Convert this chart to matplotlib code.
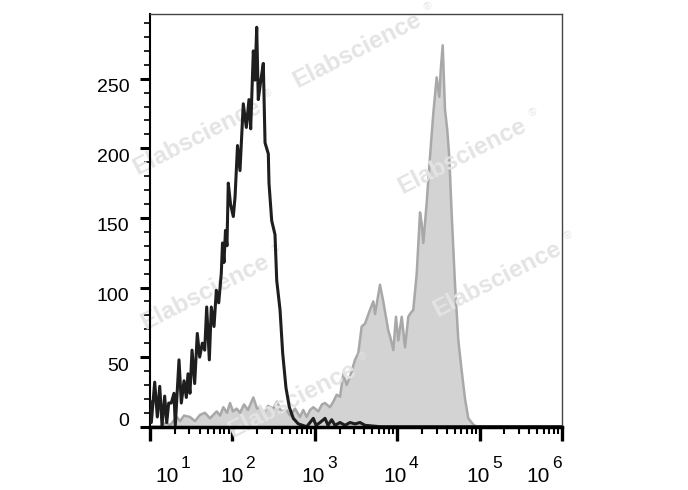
import matplotlib
matplotlib.use('Agg')
import matplotlib.pyplot as plt
import matplotlib.transforms as mtransforms
import numpy as np
from matplotlib.ticker import LogLocator, MultipleLocator, NullFormatter

plt.rcParams['font.family'] = ['Liberation Sans', 'DejaVu Sans']

# isotype control (black outline): log10 fluorescence and event count
ctrl_log = [1.000, 1.016, 1.057, 1.089, 1.118, 1.146, 1.178, 1.203, 1.227, 1.258,
            1.291, 1.307, 1.331, 1.352, 1.380, 1.413, 1.441, 1.461, 1.485, 1.510,
            1.542, 1.574, 1.603, 1.635, 1.664, 1.688, 1.720, 1.744, 1.777, 1.805,
            1.834, 1.865, 1.880, 1.898, 1.916, 1.934, 1.950, 1.977, 2.011, 2.032,
            2.062, 2.092, 2.132, 2.169, 2.201, 2.222, 2.254, 2.274, 2.295, 2.314,
            2.343, 2.375, 2.396, 2.436, 2.444, 2.477, 2.517, 2.538, 2.578, 2.610,
            2.650, 2.691, 2.739, 2.800, 2.902, 2.982, 3.015, 3.063, 3.124, 3.160,
            3.205, 3.245, 3.306, 3.367, 3.427, 3.488, 3.549, 3.609, 3.791, 6.000]
ctrl_count = [18, 3, 32, 7, 29, 1, 22, 3, 17, 17,
              24, 1, 26, 48, 17, 33, 21, 38, 24, 55,
              31, 67, 50, 60, 55, 86, 48, 86, 72, 98,
              89, 110, 132, 118, 141, 130, 175, 160, 151, 165,
              202, 184, 232, 215, 235, 214, 270, 249, 287, 235,
              248, 261, 204, 196, 175, 148, 138, 105, 84, 53,
              28, 14, 6, 2, 0, 6, 1, 3, 6, 1,
              5, 1, 3, 1, 3, 2, 3, 1, 0, 0]

# stained sample (grey filled)
stain_log = [1.000, 1.121, 1.194, 1.243, 1.324, 1.364, 1.413, 1.485, 1.546, 1.607,
             1.667, 1.728, 1.809, 1.850, 1.890, 1.934, 1.971, 2.007, 2.052, 2.092,
             2.141, 2.189, 2.254, 2.299, 2.335, 2.383, 2.432, 2.496, 2.541, 2.590,
             2.659, 2.699, 2.760, 2.820, 2.860, 2.902, 2.942, 2.982, 3.043, 3.087,
             3.124, 3.184, 3.225, 3.266, 3.306, 3.346, 3.387, 3.427, 3.488, 3.528,
             3.569, 3.609, 3.670, 3.710, 3.731, 3.791, 3.831, 3.892, 3.913, 3.953,
             3.985, 4.013, 4.055, 4.095, 4.135, 4.155, 4.195, 4.237, 4.277, 4.297,
             4.317, 4.358, 4.398, 4.438, 4.479, 4.511, 4.528, 4.552, 4.580, 4.608,
             4.632, 4.661, 4.701, 4.742, 4.783, 4.823, 4.863, 4.924, 4.965, 6.000]
stain_count = [0, 0, 3, 1, 7, 4, 8, 7, 4, 8.5,
               10, 6, 11, 8, 14, 10, 17, 11, 13, 10,
               16, 12, 21, 13, 14, 10, 15, 13, 18, 11,
               12, 8, 13, 7, 12, 7, 12, 14, 11, 16,
               17, 14, 18, 23, 21.5, 38, 30, 36, 48, 53,
               72, 74, 84, 90, 81, 102, 90, 69, 65, 55,
               79, 62, 79, 57, 79, 81, 84, 110, 154, 146,
               132, 161, 194, 225, 251, 237, 256, 274, 228, 213,
               194, 153, 103, 62, 40, 20, 6, 1.5, 0, 0]

decades = [1, 2, 3, 4, 5, 6]
y_ticks = [0, 50, 100, 150, 200, 250]
y_max = 296.5

W, H = 688, 490
fig = plt.figure(figsize=(W / 100, H / 100), dpi=100)
ax = fig.add_axes([150 / W, 1 - 426.7 / H, 412 / W, 412.7 / H])

stain_x = 10 ** np.array(stain_log)
ctrl_x = 10 ** np.array(ctrl_log)
ax.fill_between(stain_x, stain_count, color='#d3d3d3', lw=0, zorder=1)
ax.plot(stain_x, stain_count, color='#a8a8a8', lw=1.8, zorder=1.5)
ax.plot(ctrl_x, ctrl_count, color='#1e1e1e', lw=2.2, zorder=3)

ax.set_xscale('log')
ax.set_xlim(10 ** decades[0], 10 ** decades[-1])
ax.set_ylim(0, y_max)

# axes frame
for side in ['top', 'right']:
    ax.spines[side].set_linewidth(1.0)
    ax.spines[side].set_color('#444444')
ax.spines['left'].set_linewidth(1.5)
ax.spines['bottom'].set_linewidth(2.5)
ax.spines['bottom'].set_zorder(4)

ax.set_xticks([10.0 ** d for d in decades])
ax.xaxis.set_minor_locator(LogLocator(base=10, subs=np.arange(2, 10)))
ax.xaxis.set_minor_formatter(NullFormatter())
ax.set_xticklabels([])
ax.tick_params(axis='x', which='major', direction='out', length=10, width=2.4)
ax.tick_params(axis='x', which='minor', direction='out', length=5, width=1.5)

ax.set_yticks(y_ticks)
ax.yaxis.set_minor_locator(MultipleLocator(10))
ax.tick_params(axis='y', which='major', direction='out', length=7, width=2.2,
               labelsize=14, pad=8)
ax.tick_params(axis='y', which='minor', direction='out', length=4, width=1.2)

# y labels sit a little off their ticks in the original
for lab, val in zip(ax.get_yticklabels(), y_ticks):
    dy = 7 if val == 0 else -7
    lab.set_transform(lab.get_transform() +
                      mtransforms.ScaledTranslation(0, dy / 100, fig.dpi_scale_trans))

# x labels: 10 with raised exponent, placed by hand like the original
label_pos = [1.344, 2.132, 3.124, 4.115, 5.126, 5.854]
trans = mtransforms.blended_transform_factory(ax.transData, fig.transFigure)
for d, pos in zip(decades, label_pos):
    ax.text(10 ** pos, 1 - 482 / H, '10', transform=trans, ha='right', va='baseline',
            fontsize=15, clip_on=False)
    sup = trans + mtransforms.ScaledTranslation(2 / 100, 0, fig.dpi_scale_trans)
    ax.text(10 ** pos, 1 - 468 / H, str(d), transform=sup, ha='left', va='baseline',
            fontsize=12.5, clip_on=False)

# watermark: above the grey fill, below the black control line
marks = [(357, 50), (197, 137), (462, 156), (205, 292), (497, 279), (292, 400)]
ang = 27
ca, sa = np.cos(np.radians(ang)), np.sin(np.radians(ang))
for mx, my in marks:
    ax.text(mx / W, 1 - my / H, 'Elabscience', transform=fig.transFigure,
            rotation=ang, rotation_mode='anchor', ha='center', va='center',
            fontsize=17.5, fontweight='bold', color='#e4e4e4', zorder=2,
            clip_on=False)
    ex = mx + 74 * ca + 11 * sa
    ey = my - 74 * sa - 11 * ca
    ax.text(ex / W, 1 - ey / H, '®', transform=fig.transFigure, rotation=ang,
            rotation_mode='anchor', ha='center', va='center', fontsize=8,
            color='#e4e4e4', zorder=2, clip_on=False)

fig.savefig('out.png', dpi=100)
